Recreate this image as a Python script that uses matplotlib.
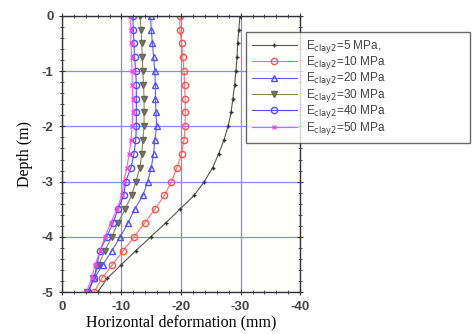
import matplotlib
matplotlib.use("Agg")
import matplotlib.pyplot as plt
import numpy as np
from matplotlib.ticker import MultipleLocator

plt.rcParams['axes.unicode_minus'] = False

depth = [0, -0.25, -0.5, -0.75, -1, -1.25, -1.5, -1.75, -2, -2.25, -2.5,
         -2.75, -3, -3.25, -3.5, -3.75, -4, -4.25, -4.5, -4.75, -5]

# horizontal deformation (mm) for each clay2 modulus
e5 = [-29.9, -29.7, -29.5, -29.4, -29.2, -29.0, -28.7, -28.4, -27.9, -27.2, -26.3,
      -25.3, -23.9, -22.2, -19.8, -17.4, -14.9, -12.4, -10.0, -7.6, -6.0]
e10 = [-19.8, -19.8, -20.1, -20.3, -20.5, -20.6, -20.7, -20.7, -20.7, -20.5, -20.1,
       -19.3, -18.4, -17.2, -15.6, -13.9, -12.1, -10.3, -8.5, -6.7, -5.4]
e20 = [-14.9, -15.0, -15.2, -15.4, -15.6, -15.7, -15.7, -15.8, -15.9, -15.6, -15.4,
       -15.0, -14.4, -13.6, -12.2, -11.1, -9.8, -8.4, -6.9, -5.4, -4.4]
e30 = [-13.1, -13.3, -13.4, -13.5, -13.6, -13.7, -13.8, -13.8, -13.8, -13.6, -13.4,
       -13.1, -12.4, -11.7, -10.6, -9.4, -8.4, -7.2, -6.2, -5.3, -4.3]
e40 = [-11.9, -12.0, -12.1, -12.2, -12.4, -12.5, -12.5, -12.5, -12.5, -12.4, -12.1,
       -11.6, -10.7, -10.4, -9.4, -8.6, -7.5, -6.4, -5.9, -5.4, -4.4]
e50 = [-11.4, -11.6, -11.6, -11.7, -11.8, -11.8, -11.9, -11.9, -11.8, -11.6, -11.3,
       -10.9, -10.4, -10.1, -9.2, -8.2, -7.2, -6.4, -5.6, -5.0, -4.1]

labels = [r'E$_{\mathrm{clay2}}$=5 MPa,', r'E$_{\mathrm{clay2}}$=10 MPa',
          r'E$_{\mathrm{clay2}}$=20 MPa', r'E$_{\mathrm{clay2}}$=30 MPa',
          r'E$_{\mathrm{clay2}}$=40 MPa', r'E$_{\mathrm{clay2}}$=50 MPa']

fig = plt.figure(figsize=(4.72, 3.34), dpi=100)
ax = fig.add_axes([0.131, 0.125, 0.505, 0.828])
ax.set_facecolor('#fffffc')

ax.plot(e5, depth, color='#555555', lw=0.8, marker='+', ms=3.5, mec='#333333', label=labels[0])
ax.plot(e10, depth, color='#ff7070', lw=0.8, marker='o', ms=4.5, mfc='none', mec='#ff5050', label=labels[1])
ax.plot(e20, depth, color='#6060ff', lw=0.8, marker='^', ms=4.5, mfc='none', mec='#5050ff', label=labels[2])
ax.plot(e30, depth, color='#8a8a50', lw=0.8, marker='v', ms=4.5, mfc='#777766', mec='#666655', label=labels[3])
ax.plot(e40, depth, color='#5050ff', lw=0.8, marker='o', ms=4.5, mfc='none', mec='#5050ff', label=labels[4])
ax.plot(e50, depth, color='#ff50ff', lw=0.8, marker='x', ms=3.5, mec='#ff40ff', label=labels[5])

ax.set_xlim(0, -40)
ax.set_ylim(-5, 0)
ax.xaxis.set_major_locator(MultipleLocator(10))
ax.xaxis.set_minor_locator(MultipleLocator(2))
ax.yaxis.set_major_locator(MultipleLocator(1))
ax.yaxis.set_minor_locator(MultipleLocator(0.2))
ax.grid(True, which='major', color='#8888ff', lw=0.9)
ax.tick_params(which='both', direction='inout', top=True, right=True, color='#333333')
ax.tick_params(which='major', length=5, labelsize=9.5, labelcolor='#444444')
ax.tick_params(which='minor', length=3)
for lab in ax.get_xticklabels() + ax.get_yticklabels():
    lab.set_fontweight('bold')
    lab.set_family('Liberation Sans')
for s in ax.spines.values():
    s.set_color('#333333')
    s.set_linewidth(1.0)

ax.set_xlabel('Horizontal deformation (mm)', family='Liberation Serif', fontsize=11.5, labelpad=1)
ax.set_ylabel('Depth (m)', family='Liberation Serif', fontsize=11.5, labelpad=6)

leg = ax.legend(loc='upper left', bbox_to_anchor=(246 / 472, 1 - 35 / 334, 224 / 472, 0.01),
                bbox_transform=fig.transFigure, mode='expand', frameon=True, fancybox=False,
                prop={'family': 'Liberation Sans', 'size': 8.5}, handlelength=3.8,
                handleheight=0.5, labelspacing=-0.05, borderpad=0.5, borderaxespad=0)
leg.get_frame().set_edgecolor('#444444')
leg.get_frame().set_linewidth(1.0)
for t in leg.get_texts():
    t.set_color('#444444')

fig.savefig('out.png', dpi=100)
